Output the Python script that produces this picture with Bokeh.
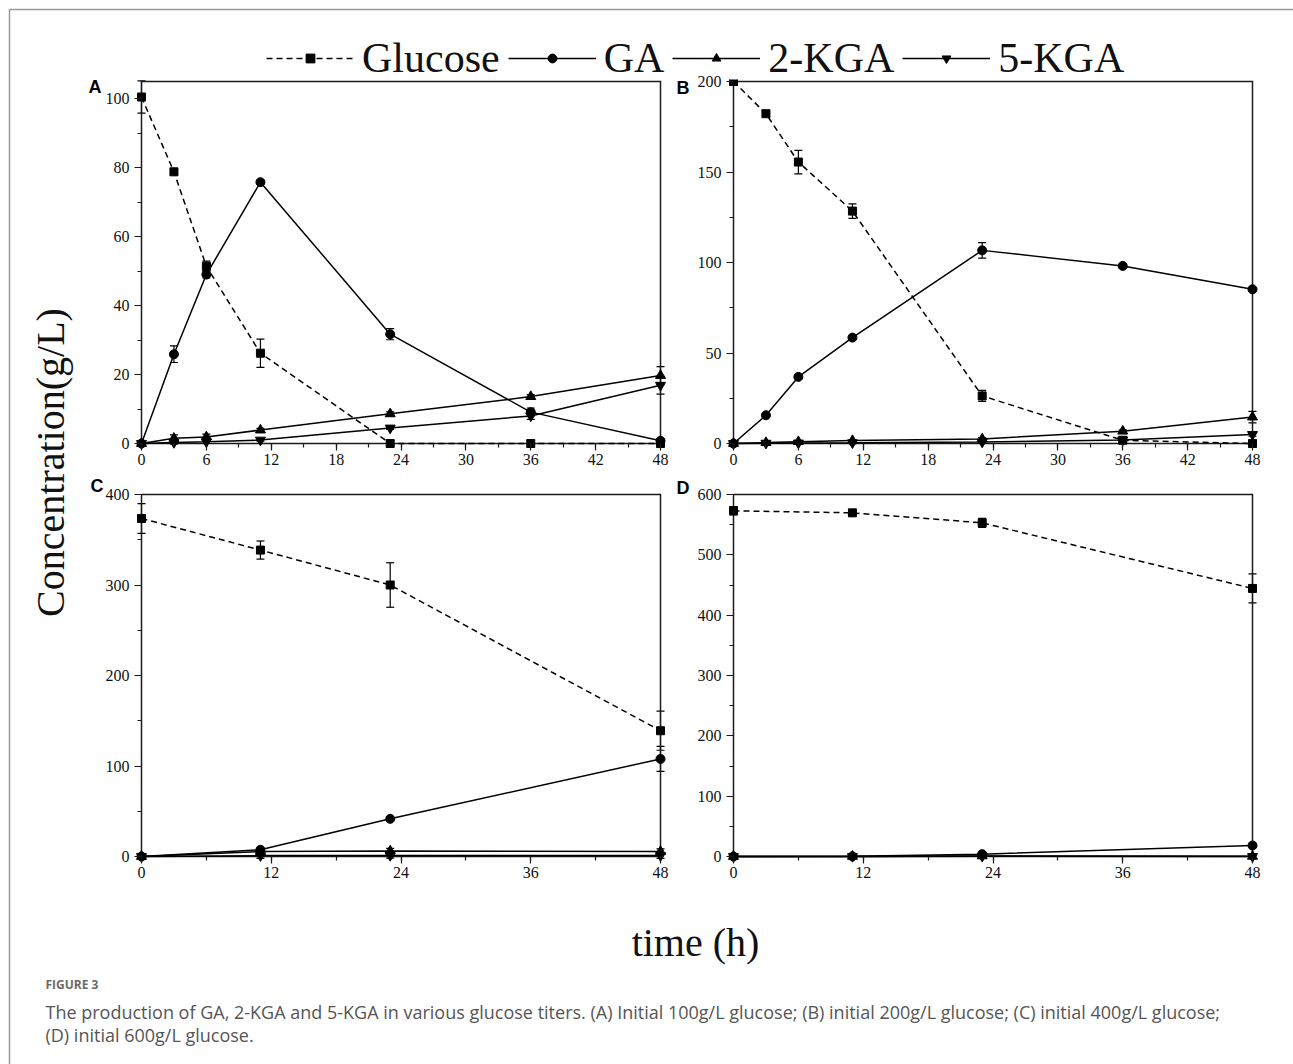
import math
from bokeh.plotting import figure
from bokeh.models import (Range1d, SingleIntervalTicker, Whisker, TeeHead,
                          ColumnDataSource, Label, Legend, LegendItem)
from bokeh.layouts import column, row
from bokeh.embed import file_html
from bokeh.resources import INLINE

# ---------------- data ----------------
t_ab = [0, 3, 6, 11, 23, 36, 48]
t_cd = [0, 11, 23, 48]

glc_a = [100.5, 78.8, 51.4, 26.2, 0, 0, 0]
glc_a_err = [4.7, 0.8, 1.5, 4.1, 0, 0, 0]
ga_a = [0, 25.9, 49.0, 75.8, 31.7, 9.1, 0.8]
ga_a_err = [0, 2.4, 1.0, 0.5, 1.6, 1.2, 0.5]
kga2_a = [0, 1.5, 1.9, 3.9, 8.6, 13.6, 19.7]
kga2_a_err = [0, 1.0, 0.8, 0.5, 0.6, 0.6, 2.6]
kga5_a = [0, 0.3, 0.5, 1.0, 4.5, 8.0, 16.9]
kga5_a_err = [0, 0.5, 0.5, 0.3, 0.4, 1.0, 2.6]

glc_b = [200, 182.2, 155.5, 128.4, 26.3, 1.8, 0]
glc_b_err = [0, 1.0, 6.5, 4.0, 3.0, 1.0, 0]
ga_b = [0, 15.6, 36.8, 58.5, 106.7, 98.1, 85.2]
ga_b_err = [0, 0.5, 1.0, 1.0, 4.3, 1.2, 1.0]
kga2_b = [0, 0.5, 1.0, 1.6, 2.5, 6.8, 14.6]
kga2_b_err = [0, 0.5, 0.5, 0.5, 0.8, 0.8, 3.2]
kga5_b = [0, 0.2, 0.3, 0.4, 0.8, 2.0, 5.0]
kga5_b_err = [0, 0.5, 0.5, 0.5, 0.5, 0.8, 1.0]

glc_c = [373.5, 338.6, 300.0, 139.0]
glc_c_err = [16.5, 10.0, 24.6, 21.6]
ga_c = [0, 7.4, 41.6, 107.8]
ga_c_err = [0, 1.0, 1.5, 13.8]
kga2_c = [0, 5.5, 6.0, 5.5]
kga2_c_err = [0, 3.0, 3.0, 3.0]
kga5_c = [0, 1.0, 1.2, 1.0]
kga5_c_err = [0, 3.0, 3.0, 3.0]

glc_d = [573.0, 569.6, 553.0, 444.3]
glc_d_err = [7.0, 3.0, 7.5, 24.0]
ga_d = [0, 0.3, 3.9, 18.2]
ga_d_err = [0, 0, 1.0, 1.0]
kga2_d = [0, 0.2, 1.0, 0.3]
kga2_d_err = [0, 0, 0, 0]
kga5_d = [0, 0, 0.3, 0]
kga5_d_err = [0, 0, 0, 0]

series_names = ["Glucose", "GA", "2-KGA", "5-KGA"]
x_ticks_ab = 6
x_ticks_cd = 12

caption_head = "FIGURE 3"
caption_line1 = ("The production of GA, 2-KGA and 5-KGA in various glucose titers. "
                 "(A) Initial 100g/L glucose; (B) initial 200g/L glucose; (C) initial 400g/L glucose;")
caption_line2 = "(D) initial 600g/L glucose."

# ---------------- styles / geometry ----------------
SERIF = "Liberation Serif"
INK = "#111111"
FRAME = "#9a9a9a"
W, H = 1293, 1064
FW, FH, PAD, EPS = 519, 362, 6, 2
XMAX = 48
STYLES = {
    "Glucose": dict(marker="square", size=8, dash="6 4"),
    "GA": dict(marker="circle", size=9, dash="solid"),
    "2-KGA": dict(marker="triangle", size=10, dash="solid"),
    "5-KGA": dict(marker="inverted_triangle", size=10, dash="solid"),
}


def make_panel(t, data, ymax, ytick, xtick, lb, rb, tb, bb):
    sx = FW / XMAX
    sy = FH / ymax
    p = figure(frame_width=FW + 2 * PAD, frame_height=FH + PAD + EPS,
               x_range=Range1d(-PAD / sx, XMAX + PAD / sx),
               y_range=Range1d(-PAD / sy, ymax + EPS / sy),
               min_border_left=lb, min_border_right=rb,
               min_border_top=tb, min_border_bottom=bb,
               output_backend="svg", toolbar_location=None)
    p.outline_line_color = None
    p.grid.visible = False
    p.background_fill_alpha = 0
    p.border_fill_alpha = 0

    xa = p.xaxis[0]
    xa.ticker = SingleIntervalTicker(interval=xtick, num_minor_ticks=2)
    xa.bounds = (0, XMAX)
    ya = p.yaxis[0]
    ya.ticker = SingleIntervalTicker(interval=ytick, num_minor_ticks=2)
    ya.bounds = (0, ymax)
    for ax in (xa, ya):
        ax.axis_line_color = None
        ax.major_tick_line_color = "#1a1a1a"
        ax.minor_tick_line_color = "#1a1a1a"
        ax.major_tick_line_width = 1.2
        ax.minor_tick_line_width = 1.2
        ax.major_tick_in = PAD
        ax.major_tick_out = 1
        ax.minor_tick_in = PAD
        ax.minor_tick_out = -2
        ax.major_label_text_font = SERIF
        ax.major_label_text_font_size = "16px"
        ax.major_label_text_color = INK
    xa.major_label_standoff = 3
    ya.major_label_standoff = 5

    # axis box: left, bottom, right, top
    p.line(x=[0, 0, XMAX, XMAX, 0], y=[ymax, 0, 0, ymax, ymax], line_color="#1a1a1a",
           line_width=1.5, line_join="miter")

    for name in series_names:
        y, err = data[name]
        st = STYLES[name]
        keep = [i for i, e in enumerate(err) if e > 0]
        if keep:
            src = ColumnDataSource(dict(
                x=[t[i] for i in keep],
                lower=[y[i] - err[i] for i in keep],
                upper=[y[i] + err[i] for i in keep]))
            p.add_layout(Whisker(source=src, base="x", lower="lower", upper="upper",
                                 dimension="height", line_color="black", line_width=1.2,
                                 upper_head=TeeHead(size=8, line_width=1.2, line_color="black"),
                                 lower_head=TeeHead(size=8, line_width=1.2, line_color="black")))
        p.line(x=t, y=y, line_color="black", line_width=1.5, line_dash=st["dash"])
        p.scatter(x=t, y=y, marker=st["marker"], size=st["size"],
                  fill_color="black", line_color="black")
    return p


# panel figures: A/C span page x 0..674, B/D 674..1293; rows 0..487 and 487..893
pA = make_panel(t_ab, {"Glucose": (glc_a, glc_a_err), "GA": (ga_a, ga_a_err),
                       "2-KGA": (kga2_a, kga2_a_err), "5-KGA": (kga5_a, kga5_a_err)},
                105, 20, x_ticks_ab, 135, 8, 79, 38)
pB = make_panel(t_ab, {"Glucose": (glc_b, glc_b_err), "GA": (ga_b, ga_b_err),
                       "2-KGA": (kga2_b, kga2_b_err), "5-KGA": (kga5_b, kga5_b_err)},
                200, 50, x_ticks_ab, 53, 35, 79, 38)
pC = make_panel(t_cd, {"Glucose": (glc_c, glc_c_err), "GA": (ga_c, ga_c_err),
                       "2-KGA": (kga2_c, kga2_c_err), "5-KGA": (kga5_c, kga5_c_err)},
                400, 100, x_ticks_cd, 135, 8, 5, 31)
pD = make_panel(t_cd, {"Glucose": (glc_d, glc_d_err), "GA": (ga_d, ga_d_err),
                       "2-KGA": (kga2_d, kga2_d_err), "5-KGA": (kga5_d, kga5_d_err)},
                600, 100, x_ticks_cd, 53, 35, 5, 31)

# ---------------- background page: legend, titles, caption ----------------
bg = figure(width=W, height=H, x_range=Range1d(0, W), y_range=Range1d(H, 0),
            min_border=0, output_backend="svg", toolbar_location=None,
            x_axis_location=None, y_axis_location=None)
bg.outline_line_color = None
bg.grid.visible = False
bg.line(x=[W, 9, 9], y=[9, 9, H], line_color=FRAME, line_width=1.5)

items = []
for name in series_names:
    st = STYLES[name]
    rl = bg.line(x=[-100, -90], y=[-100, -100], line_color="black", line_width=1.5,
                 line_dash=st["dash"])
    rs = bg.scatter(x=[-100], y=[-100], marker=st["marker"], size=st["size"],
                    fill_color="black", line_color="black")
    items.append(LegendItem(label=name, renderers=[rl, rs]))
leg = Legend(items=items, orientation="horizontal", location=(266, H - 82),
             glyph_width=88, glyph_height=22, label_standoff=8, spacing=8,
             padding=0, margin=0, border_line_color=None, background_fill_alpha=0,
             label_text_font=SERIF, label_text_font_size="42px", label_text_color=INK)
bg.add_layout(leg)

for txt, px, py in [("A", 88, 86), ("B", 676, 87), ("C", 90, 485), ("D", 676, 487)]:
    bg.add_layout(Label(x=px, y=py, text=txt, text_font="Liberation Sans",
                        text_font_style="bold", text_font_size="18px", text_color="black",
                        text_align="left", text_baseline="alphabetic"))

bg.add_layout(Label(x=50, y=462, text="Concentration(g/L)", angle=math.pi / 2,
                    text_font=SERIF, text_font_size="40px", text_color=INK,
                    text_align="center", text_baseline="middle"))
bg.add_layout(Label(x=695, y=942, text="time (h)", text_font=SERIF,
                    text_font_size="40px", text_color=INK,
                    text_align="center", text_baseline="middle"))
bg.add_layout(Label(x=45, y=984, text=caption_head, text_font="Open Sans",
                    text_font_style="bold", text_font_size="12px", text_color="#6a6a6a",
                    text_align="left", text_baseline="middle"))
bg.add_layout(Label(x=45, y=1011, text=caption_line1, text_font="Open Sans",
                    text_font_size="18px", text_color="#555555",
                    text_align="left", text_baseline="middle"))
bg.add_layout(Label(x=45, y=1034, text=caption_line2, text_font="Open Sans",
                    text_font_size="18px", text_color="#555555",
                    text_align="left", text_baseline="middle"))

grid = column(row(pA, pB), row(pC, pD))
grid.margin = (-H, 0, 0, 0)
layout = column(bg, grid)
open("out.html", "w").write(file_html(layout, INLINE))
